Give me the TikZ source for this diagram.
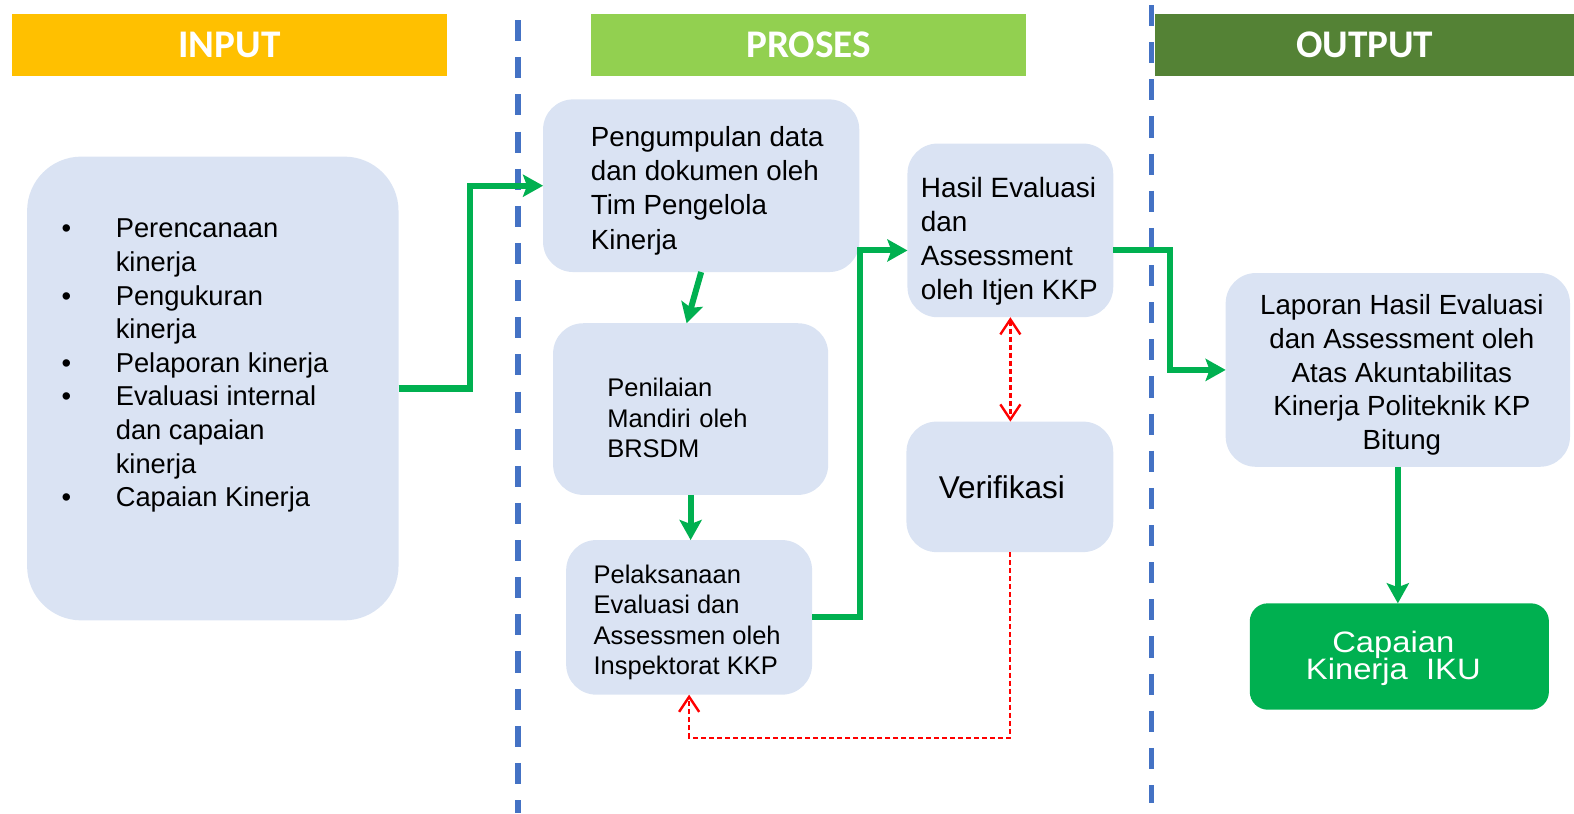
\documentclass[tikz,border=0pt]{standalone}
\usepackage{fontspec}
\setmainfont{Liberation Sans}
\newfontfamily\headfont{Carlito}
\newfontfamily\widefont[FakeStretch=1.11]{Liberation Sans}
\usetikzlibrary{arrows.meta,positioning}
\definecolor{boxblue}{RGB}{218,227,243}
\definecolor{okgreen}{RGB}{0,176,80}
\definecolor{inputgold}{RGB}{255,192,0}
\definecolor{prosesgreen}{RGB}{146,208,80}
\definecolor{outputgreen}{RGB}{84,130,53}
\definecolor{lineblue}{RGB}{68,114,196}
\newcommand\tightlines{\lineskiplimit=-20pt\relax}
\begin{document}
\begin{tikzpicture}[x=0.5pt,y=-0.5pt,
    box/.style={fill=boxblue,rounded corners=15pt,inner sep=0pt,outer sep=0pt},
    boxtext/.style={inner sep=0pt},
    flow/.style={draw=okgreen,line width=3pt,-{Stealth[length=10pt,width=11pt,inset=2pt]}},
    check/.style={draw=red,line width=1.2pt,dash pattern=on 2.5pt off 1.5pt,>={Straight Barb[length=7.5pt,width=10pt]}}]
  \useasboundingbox (0,0) rectangle (1568,810);
  % headers
  \foreach \id / \x / \w / \c / \t in {
      input/228.5/433/inputgold/INPUT,
      proses/805.5/433/prosesgreen/PROSES,
      output/1359.5/417/outputgreen/OUTPUT}{
    \node[fill=\c,minimum width=\w*0.5pt,minimum height=31pt,inner sep=0pt,text=white,
      font=\headfont\bfseries\fontsize{19.5}{20}\selectfont] (\id) at (\x,45) {\t};
  }
  % dividers
  \foreach \x / \a / \b in {516/20/810, 1147/5/800}{
    \draw[lineblue,line width=2.7pt,dash pattern=on 10.5pt off 8pt] (\x,\a) -- (\x,\b);
  }
  % input
  \node[box,rounded corners=27pt,minimum width=185pt,minimum height=231pt] (inputbox) at (212,387) {};
  \node[anchor=north west,inner sep=0pt,font=\fontsize{13.6}{16.75}\selectfont] (inputlist)
      at ([shift={(34,57)}]inputbox.north west) {%
    \begin{tabular}{@{}p{27pt}@{}l@{}}
      \textbullet & Perencanaan\\
                  & kinerja\\
      \textbullet & Pengukuran\\
                  & kinerja\\
      \textbullet & Pelaporan kinerja\\
      \textbullet & Evaluasi internal\\
                  & dan capaian\\
                  & kinerja\\
      \textbullet & Capaian Kinerja
    \end{tabular}};
  % proses
  \node[box,minimum width=157.5pt,minimum height=86pt] (pengumpulan) at (698.5,185) {};
  \node[boxtext,align=left,font=\fontsize{13.8}{17}\selectfont] (pengumpulantext)
    at ([shift={(6,5)}]pengumpulan) {Pengumpulan data\\dan dokumen oleh\\Tim Pengelola\\Kinerja};
  \node[box,minimum width=137pt,minimum height=85.5pt] (penilaian) at (688,407.5) {};
  \node[boxtext,text width=83pt,align=left,font=\fontsize{12.7}{15.2}\selectfont] (penilaiantext)
    at ([shift={(0,9)}]penilaian) {Penilaian\\Mandiri oleh\\BRSDM};
  \node[box,minimum width=122.5pt,minimum height=77pt] (pelaksanaan) at (686.5,615) {};
  \node[boxtext,align=left,font=\fontsize{12.7}{15.2}\selectfont] (pelaksanaantext)
    at ([shift={(-2,5)}]pelaksanaan) {Pelaksanaan\\Evaluasi dan\\Assessmen oleh\\Inspektorat KKP};
  \node[box,minimum width=102.5pt,minimum height=86.5pt] (hasil) at (1006.5,229.5) {};
  \node[boxtext,align=left,font=\fontsize{13.9}{16.85}\selectfont] (hasiltext)
    at ([shift={(-1,11)}]hasil) {Hasil Evaluasi\\dan\\Assessment\\oleh Itjen KKP};
  \node[box,minimum width=103pt,minimum height=65pt] (verifikasi) at (1006,485) {};
  \node[boxtext,font=\fontsize{15.7}{18}\selectfont] (verifikasitext)
    at ([shift={(-8,0)}]verifikasi) {Verifikasi};
  % output
  \node[box,minimum width=171.5pt,minimum height=96.5pt] (laporan) at (1392.5,368.5) {};
  \node[boxtext,align=center,font=\fontsize{13.8}{16.75}\selectfont] (laporantext)
    at ([shift={(4,5)}]laporan)
    {Laporan Hasil Evaluasi\\dan Assessment oleh\\Atas Akuntabilitas\\Kinerja Politeknik KP\\Bitung};
  \node[box,fill=okgreen,rounded corners=9pt,minimum width=149pt,minimum height=53pt] (capaian) at (1394,654) {};
  \node[boxtext,align=center,text=white,font=\widefont\fontsize{14.7}{13.7}\selectfont\tightlines] (capaiantext)
    at ([shift={(-6,2)}]capaian) {Capaian\\Kinerja\ \ IKU};
  % connectors
  \draw[flow] (inputbox.east) -- ++(71,0) |- (pengumpulan.west);
  \draw[flow] (pengumpulan.south) -- ([xshift=-2pt]penilaian.north);
  \draw[flow] (penilaian.south) -- (penilaian.south |- pelaksanaan.north);
  \draw[flow] (pelaksanaan.east) -- ++(48,0) |- ([yshift=-10pt]hasil.west);
  \draw[flow] ([yshift=-10pt]hasil.east) -- ++(57,0) |- (laporan.west);
  \draw[flow] (laporan.south) -- (laporan.south |- capaian.north);
  \draw[check,<->] (hasil.south) -- (hasil.south |- verifikasi.north);
  \draw[check,->] (verifikasi.south) -- ++(0,185) -| (pelaksanaan.south);
\end{tikzpicture}
\end{document}
